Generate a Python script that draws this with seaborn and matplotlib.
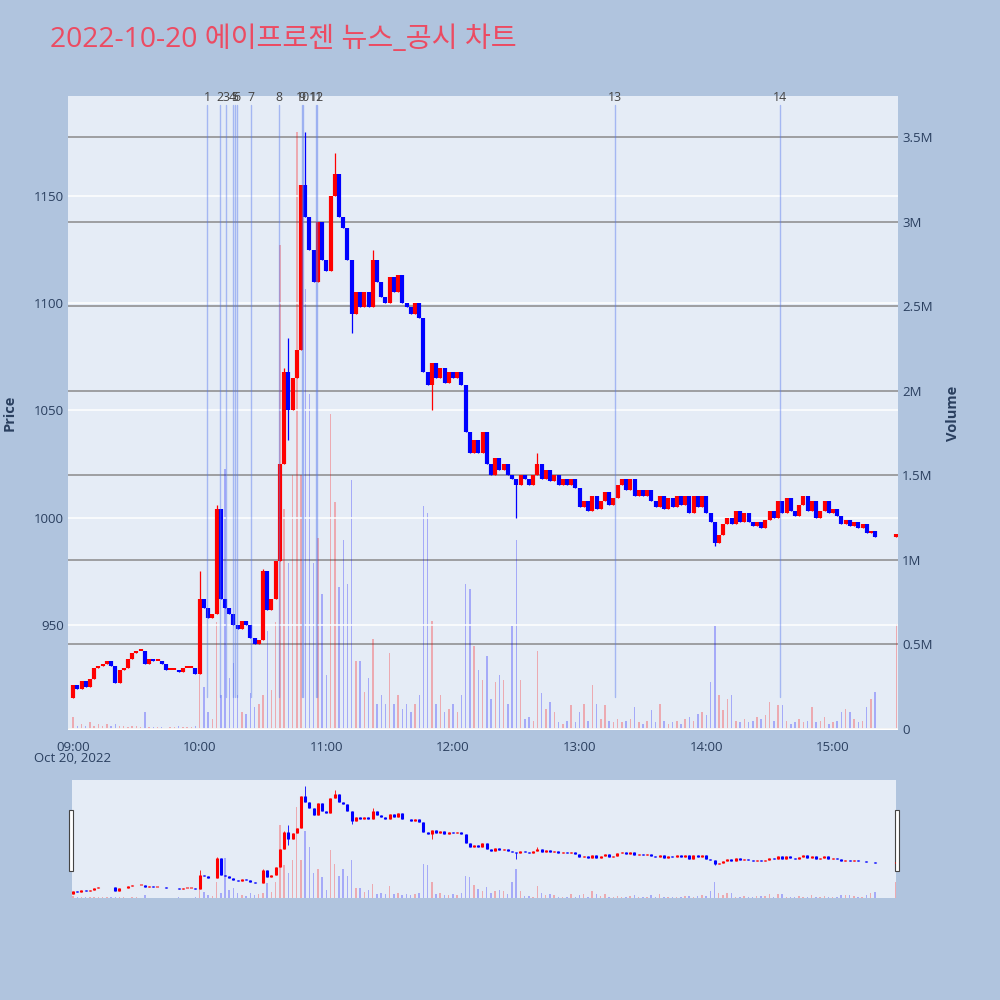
import numpy as np
import pandas as pd
import matplotlib
matplotlib.use('Agg')
import matplotlib.pyplot as plt
import matplotlib.patches as mpatches
import seaborn as sns

# 종가 (2분 간격, 09:00 ~ 15:20)
close_px = [
    922, 920, 924, 921, 925, 930, 931, 932, 933, 931,
    923, 929, 930, 934, 937, 938, 938, 932, 934, 933,
    933, 932, 929, 929, 929, 928, 930, 930, 930, 927,
    962, 958, 953, 955, 1004, 962, 958, 955, 950, 948,
    952, 950, 944, 941, 943, 975, 957, 962, 980, 1025,
    1068, 1050, 1065, 1078, 1155, 1140, 1125, 1110, 1138, 1120,
    1115, 1150, 1160, 1140, 1135, 1120, 1095, 1105, 1098, 1105,
    1098, 1120, 1110, 1103, 1100, 1112, 1105, 1113, 1100, 1098,
    1095, 1100, 1093, 1068, 1062, 1072, 1065, 1070, 1063, 1068,
    1065, 1068, 1062, 1040, 1030, 1036, 1030, 1040, 1025, 1020,
    1028, 1022, 1025, 1020, 1018, 1015, 1020, 1018, 1015, 1020,
    1025, 1018, 1022, 1017, 1020, 1015, 1018, 1015, 1018, 1014,
    1005, 1008, 1003, 1010, 1004, 1008, 1012, 1006, 1009, 1015,
    1018, 1013, 1018, 1010, 1013, 1010, 1013, 1008, 1005, 1010,
    1004, 1009, 1005, 1010, 1006, 1010, 1002, 1010, 1005, 1010,
    1002, 998, 988, 992, 997, 1000, 997, 1003, 998, 1002,
    998, 996, 998, 995, 999, 1003, 1000, 1008, 1002, 1009,
    1003, 1001, 1006, 1010, 1003, 1008, 1000, 1003, 1008, 1002,
    1004, 1001, 997, 999, 996, 998, 995, 997, 993, 994,
    991,
]
first_open = 916
auction_close = 992.5   # 15:30 동시호가

# 거래량 (백만주, 2분 간격) + 15:30
volume_m = [
    0.07, 0.02, 0.03, 0.02, 0.04, 0.02, 0.03, 0.02, 0.03, 0.02,
    0.03, 0.02, 0.02, 0.01, 0.02, 0.02, 0.01, 0.10, 0.01, 0.01,
    0.01, 0.01, 0.00, 0.01, 0.01, 0.02, 0.01, 0.01, 0.01, 0.02,
    0.37, 0.25, 0.10, 0.06, 0.63, 0.20, 1.54, 0.30, 0.39, 0.20,
    0.10, 0.09, 0.21, 0.13, 0.15, 0.20, 0.58, 0.23, 0.63, 2.86,
    1.30, 0.98, 1.50, 3.53, 1.50, 2.60, 1.98, 0.98, 1.13, 0.80,
    0.32, 1.86, 1.34, 0.84, 1.12, 0.86, 1.47, 0.40, 0.40, 0.22,
    0.30, 0.53, 0.15, 0.20, 0.15, 0.45, 0.15, 0.20, 0.12, 0.15,
    0.10, 0.15, 0.20, 1.32, 1.28, 0.64, 0.15, 0.20, 0.10, 0.12,
    0.15, 0.10, 0.20, 0.86, 0.83, 0.49, 0.35, 0.29, 0.43, 0.18,
    0.28, 0.32, 0.29, 0.15, 0.61, 1.12, 0.29, 0.06, 0.07, 0.05,
    0.46, 0.21, 0.12, 0.16, 0.10, 0.04, 0.03, 0.05, 0.14, 0.04,
    0.10, 0.15, 0.05, 0.26, 0.15, 0.06, 0.14, 0.05, 0.04, 0.06,
    0.04, 0.05, 0.06, 0.13, 0.04, 0.03, 0.05, 0.11, 0.04, 0.15,
    0.05, 0.03, 0.04, 0.05, 0.03, 0.06, 0.07, 0.05, 0.09, 0.10,
    0.08, 0.28, 0.61, 0.20, 0.11, 0.18, 0.20, 0.05, 0.04, 0.06,
    0.04, 0.05, 0.07, 0.06, 0.08, 0.16, 0.05, 0.14, 0.14, 0.05,
    0.03, 0.04, 0.06, 0.04, 0.05, 0.13, 0.04, 0.05, 0.07, 0.03,
    0.04, 0.05, 0.10, 0.12, 0.10, 0.06, 0.04, 0.05, 0.13, 0.18,
    0.22,
    0.62,
]

# 꼬리 (분: (저가, 고가))
wick_extremes = {
    60: (None, 975), 68: (None, 1006), 90: (None, 976), 100: (None, 1070),
    102: (1036, 1084), 110: (None, 1180), 124: (None, 1170), 132: (1086, None),
    142: (None, 1125), 170: (1050, None), 210: (1000, None), 220: (None, 1030),
    304: (987, None),
}

# 뉴스/공시 시각 (09:00 기준 분)
news_minutes = [63.5, 69.6, 72.5, 75.6, 76.5, 77.7, 84.2, 97.6,
                108.3, 109.0, 115.1, 115.6, 256.7, 334.9]
news_labels = [str(i) for i in range(1, 15)]

hour_ticks = [0, 60, 120, 180, 240, 300, 360]
hour_labels = ['09:00', '10:00', '11:00', '12:00', '13:00', '14:00', '15:00']
price_ticks = [950, 1000, 1050, 1100, 1150]
vol_ticks = [0, 0.5, 1, 1.5, 2, 2.5, 3, 3.5]
vol_tick_labels = ['0', '0.5M', '1M', '1.5M', '2M', '2.5M', '3M', '3.5M']

# 데이터프레임
minutes = list(range(0, 381, 2)) + [390]
closes = close_px + [auction_close]
opens = [first_open] + closes[:-1]
df = pd.DataFrame({'minute': minutes, 'open': opens, 'close': closes,
                   'volume': np.array(volume_m) * 1e6})
df['dir'] = np.where(df['close'] >= df['open'], 'up', 'down')
df['low'] = df[['open', 'close']].min(axis=1)
df['high'] = df[['open', 'close']].max(axis=1)
for m, (lo, hi) in wick_extremes.items():
    if lo is not None:
        df.loc[df['minute'] == m, 'low'] = lo
    if hi is not None:
        df.loc[df['minute'] == m, 'high'] = hi

UP, DOWN = '#FF0000', '#0000FF'
BG, PLOT_BG = '#B0C4DE', '#E5ECF6'
TXT = '#2a3f5f'

sns.set_style('white')
plt.rcParams['font.family'] = ['Open Sans', 'Noto Sans CJK KR', 'DejaVu Sans']


def draw_candles(ax, body_lw, wick_lw):
    cols = np.where(df['dir'] == 'up', UP, DOWN)
    bottom = df[['open', 'close']].min(axis=1)
    top = np.maximum(df[['open', 'close']].max(axis=1), bottom + 0.9)
    ax.vlines(df['minute'], df['low'], df['high'], colors=cols, lw=wick_lw, zorder=3)
    ax.vlines(df['minute'], bottom, top, colors=cols, lw=body_lw, zorder=4)


def draw_volume(ax):
    sns.barplot(data=df, x='minute', y='volume', hue='dir', native_scale=True,
                palette={'up': UP, 'down': DOWN}, dodge=False, width=0.35,
                alpha=0.28, saturation=1, linewidth=0, errorbar=None,
                legend=False, ax=ax)
    ax.set_xlabel('')
    ax.set_ylabel('')


fig = plt.figure(figsize=(10, 10), dpi=100, facecolor=BG)

# ---- 메인 차트 ----
rect = [0.068, 0.27, 0.83, 0.634]
ax_v = fig.add_axes(rect)
ax_v.set_facecolor(PLOT_BG)
draw_volume(ax_v)
ax_v.set_ylim(-0.006e6, 3.743e6)
ax_v.yaxis.tick_right()
ax_v.set_yticks([v * 1e6 for v in vol_ticks])
ax_v.set_yticklabels(vol_tick_labels)
ax_v.grid(axis='y', color='#8a8a8a', lw=1.1)
ax_v.grid(axis='x', visible=False)
ax_v.axhline(0, color='white', lw=2, zorder=1)
ax_v.tick_params(axis='y', length=0, pad=3, labelsize=9.5, labelcolor=TXT)
ax_v.tick_params(axis='x', labelbottom=False, length=0)

ax_p = fig.add_axes(rect, sharex=ax_v)
ax_p.patch.set_visible(False)
ax_p.set_zorder(ax_v.get_zorder() + 1)
draw_candles(ax_p, body_lw=3.0, wick_lw=0.9)
ax_p.set_ylim(901, 1196.6)
ax_p.set_yticks(price_ticks)
ax_p.grid(axis='y', color='white', lw=1.1)
ax_p.grid(axis='x', visible=False)
ax_p.tick_params(axis='y', length=0, pad=3, labelsize=9.5, labelcolor=TXT)
ax_p.set_xticks(hour_ticks)
ax_p.set_xticklabels(hour_labels)
ax_p.tick_params(axis='x', length=0, pad=8, labelsize=9.5, labelcolor=TXT)
ax_p.set_xlim(-2.4, 390.8)

for m, lab in zip(news_minutes, news_labels):
    ax_p.axvline(m, ymin=0.052, ymax=0.986, color='#5577EE', alpha=0.45, lw=1, zorder=5)
    ax_p.text(m, 0.998, lab, transform=ax_p.get_xaxis_transform(), ha='center',
              va='center', fontsize=8.8, color='#444444')

for a in (ax_v, ax_p):
    for s in a.spines.values():
        s.set_visible(False)

fig.text(0.073, 1 - 0.758, 'Oct 20, 2022', ha='center', va='center', fontsize=9.5, color=TXT)
fig.text(0.05, 1 - 0.040, '2022-10-20 에이프로젠 뉴스_공시 차트', ha='left', va='center',
         fontsize=20.3, color='#EC4B62')
fig.text(0.010, 1 - 0.413, 'Price', rotation=90, ha='center', va='center',
         fontsize=10.5, fontweight='bold', color=TXT)
fig.text(0.953, 1 - 0.413, 'Volume', rotation=90, ha='center', va='center',
         fontsize=10.5, fontweight='bold', color=TXT)

# ---- 레인지 슬라이더 ----
srect = [0.072, 0.102, 0.824, 0.118]
sx_v = fig.add_axes(srect)
sx_v.set_facecolor(PLOT_BG)
draw_volume(sx_v)
sx_v.set_ylim(0, 4.6e6)
sx_p = fig.add_axes(srect, sharex=sx_v)
sx_p.patch.set_visible(False)
sx_p.set_zorder(sx_v.get_zorder() + 1)
draw_candles(sx_p, body_lw=2.2, wick_lw=0.6)
sx_p.set_ylim(905, 1195)
sx_p.set_xlim(-0.5, 390)
for a in (sx_v, sx_p):
    a.set_xticks([])
    a.set_yticks([])
    a.grid(False)
    for s in a.spines.values():
        s.set_visible(False)

for hx in (0.0685, 0.8945):
    fig.add_artist(mpatches.Rectangle((hx, 1 - 0.871), 0.0045, 0.061, transform=fig.transFigure,
                                      facecolor='white', edgecolor='#444444', lw=0.8))

fig.savefig('out.png', dpi=100, facecolor=BG)
